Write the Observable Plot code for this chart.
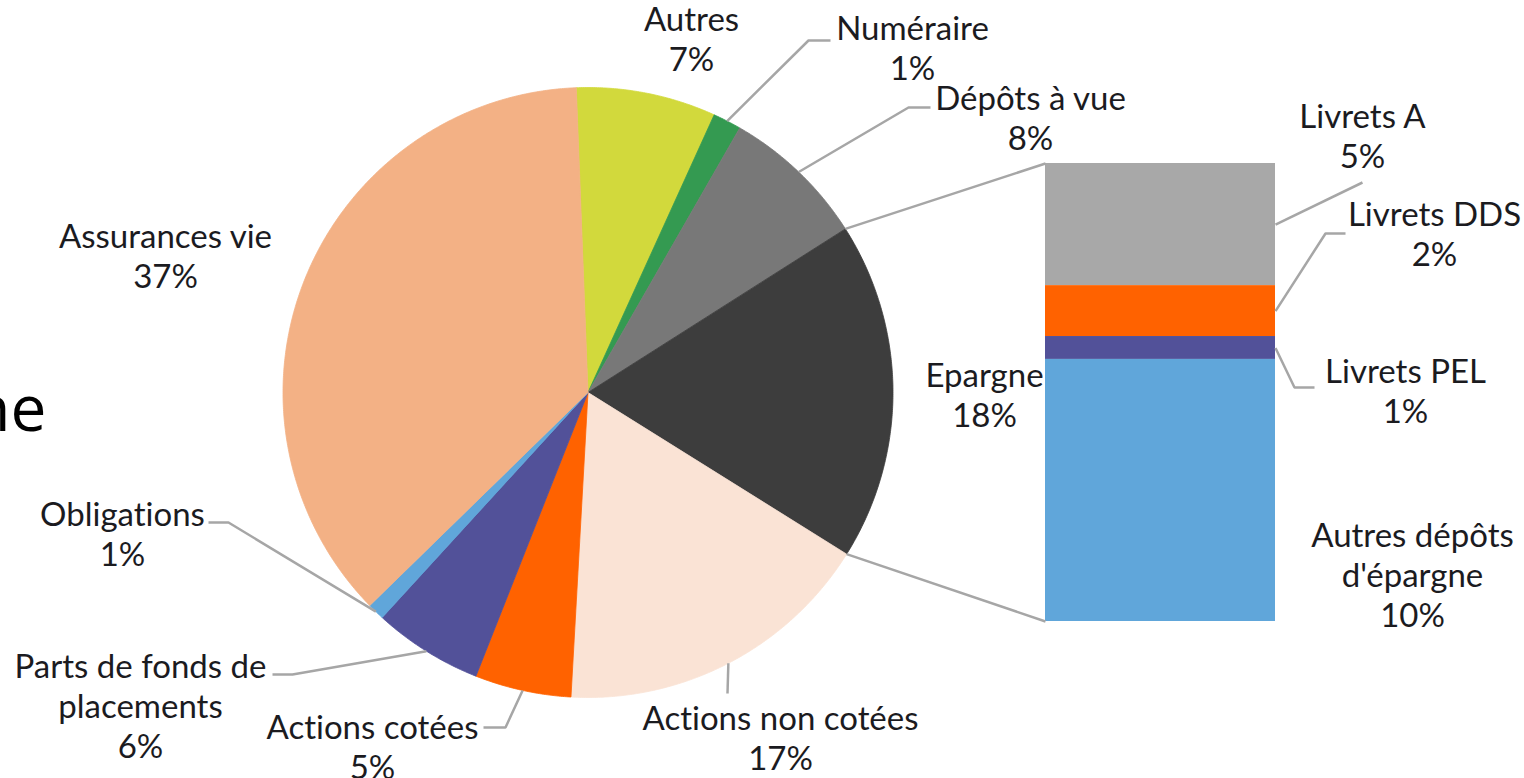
<!DOCTYPE html>
<html>
<head>
<meta charset="utf-8">
<script src="https://cdn.jsdelivr.net/npm/d3@7"></script>
<script src="https://cdn.jsdelivr.net/npm/@observablehq/plot@0.6"></script>
<style>
  html, body { margin: 0; padding: 0; background: #ffffff; overflow: hidden; }
  #chart { width: 1524px; height: 778px; }
  #chart svg text { font-variant-ligatures: none; font-feature-settings: "liga" 0, "clig" 0; }
</style>
</head>
<body>
<div id="chart"></div>
<script>
// ---------- DATA ----------
const pieCategories = ["Autres", "Numéraire", "Dépôts à vue", "Epargne", "Actions non cotées",
  "Actions cotées", "Parts de fonds de placements", "Obligations", "Assurances vie"];
const pieValues = [7.4, 1.5, 7.7, 17.9, 17.0, 5.1, 5.8, 0.9, 36.7];
const pieLabelText = ["Autres\n7%", "Numéraire\n1%", "Dépôts à vue\n8%", "Epargne\n18%",
  "Actions non cotées\n17%", "Actions cotées\n5%", "Parts de fonds de\nplacements\n6%",
  "Obligations\n1%", "Assurances vie\n37%"];
const pieColors = ["#d2d93c", "#349a51", "#787878", "#3d3d3d", "#fae3d5",
  "#ff6200", "#525199", "#60a6da", "#f3b185"];

const barCategories = ["Livrets A", "Livrets DDS", "Livrets PEL", "Autres dépôts d'épargne"];
const barValues = [4.8, 2.0, 0.9, 10.3];
const barLabelText = ["Livrets A\n5%", "Livrets DDS\n2%", "Livrets PEL\n1%", "Autres dépôts\nd'épargne\n10%"];
const barColors = ["#a8a8a8", "#ff6200", "#525199", "#60a6da"];

const sideText = "ne";

// ---------- LAYOUT ----------
const W = 1524, H = 778;
const cx = 587.5, cy = 392, R = 305, startDeg = -2.2;
const bar = {x0: 1045, x1: 1275, top: 163, bottom: 621};
const explodedIndex = 3; // Epargne
const fontFamily = "Lato, 'Open Sans', sans-serif";
const textColor = "#1b1b1f";
const leaderColor = "#a6a6a6";

// label block centres (pixel layout) per category
const pieLabelPos = {
  "Autres": [691, 38], "Numéraire": [912, 47], "Dépôts à vue": [1030, 117],
  "Epargne": [984, 394], "Actions non cotées": [780, 737], "Actions cotées": [372, 746],
  "Parts de fonds de placements": [140, 705], "Obligations": [122, 533], "Assurances vie": [165, 255]
};
const barLabelPos = {
  "Livrets A": [1362, 135], "Livrets DDS": [1434, 233], "Livrets PEL": [1405, 390],
  "Autres dépôts d'épargne": [1412, 574]
};
// leader line elbow/end points (pixel layout)
const pieLeaders = {
  "Numéraire": [[808, 40], [830, 40]],
  "Dépôts à vue": [[908, 107], [930, 107]],
  "Obligations": [[228, 522], [208, 522]],
  "Parts de fonds de placements": [[292, 674], [272, 674]],
  "Actions cotées": [[505, 727], [483, 727]],
  "Actions non cotées": [[727, 693]]
};
const barLeaders = {
  "Livrets A": [[1362, 182]],
  "Livrets DDS": [[1325, 233], [1345, 233]],
  "Livrets PEL": [[1294, 387], [1314, 387]]
};

// ---------- GEOMETRY FROM DATA ----------
const pt = (deg, r) => { const t = deg * Math.PI / 180; return [cx + r * Math.sin(t), cy - r * Math.cos(t)]; };
const pieTotal = d3.sum(pieValues);
let acc = startDeg;
const slices = pieCategories.map((key, i) => {
  const a0 = acc, a1 = acc + pieValues[i] / pieTotal * 360;
  acc = a1;
  return {key, a0, a1, mid: (a0 + a1) / 2, i};
});
const slicePoints = slices.flatMap(s => {
  const n = Math.max(2, Math.ceil((s.a1 - s.a0) / 0.4));
  const pts = [{key: s.key, x: cx, y: cy}];
  for (let j = 0; j <= n; j++) {
    const [x, y] = pt(s.a0 + (s.a1 - s.a0) * j / n, R);
    pts.push({key: s.key, x, y});
  }
  pts.push({key: s.key, x: cx, y: cy});
  return pts;
});

const barTotal = d3.sum(barValues);
const k = (bar.bottom - bar.top) / barTotal;
let yAcc = bar.top;
const barRows = barCategories.map((key, i) => {
  const y1 = yAcc, y2 = yAcc + barValues[i] * k;
  yAcc = y2;
  return {key, x1: bar.x0, x2: bar.x1, y1, y2, mid: (y1 + y2) / 2};
});

const ex = slices[explodedIndex];
const [ax, ay] = pt(ex.a0, R), [bx, by] = pt(ex.a1, R);
const connectors = [
  {x1: ax, y1: ay, x2: bar.x0, y2: bar.top},
  {x1: bx, y1: by, x2: bar.x0, y2: bar.bottom}
];

const leaderPoints = [];
slices.forEach(s => {
  const path = pieLeaders[s.key];
  if (!path) return;
  const [sx, sy] = pt(s.mid, R);
  leaderPoints.push({key: s.key, x: sx, y: sy});
  path.forEach(([x, y]) => leaderPoints.push({key: s.key, x, y}));
});
barRows.forEach(b => {
  const path = barLeaders[b.key];
  if (!path) return;
  leaderPoints.push({key: b.key, x: bar.x1, y: b.mid});
  path.forEach(([x, y]) => leaderPoints.push({key: b.key, x, y}));
});

const labels = [
  ...pieCategories.map((c, i) => ({x: pieLabelPos[c][0], y: pieLabelPos[c][1], text: pieLabelText[i]})),
  ...barCategories.map((c, i) => ({x: barLabelPos[c][0], y: barLabelPos[c][1], text: barLabelText[i]}))
];

const chart = Plot.plot({
  width: W, height: H, margin: 0,
  x: {domain: [0, W], range: [0, W], axis: null},
  y: {domain: [0, H], range: [0, H], axis: null},
  color: {type: "ordinal", domain: [...pieCategories, ...barCategories.map(d => "bar:" + d)], range: [...pieColors, ...barColors]},
  style: {background: "#ffffff", overflow: "visible"},
  marks: [
    Plot.line(slicePoints, {x: "x", y: "y", z: "key", fill: "key", stroke: "key", strokeWidth: 0.8, curve: "linear"}),
    Plot.rect(barRows, {x1: "x1", x2: "x2", y1: "y1", y2: "y2", fill: d => "bar:" + d.key}),
    Plot.link(connectors, {x1: "x1", y1: "y1", x2: "x2", y2: "y2", stroke: leaderColor, strokeWidth: 2.5}),
    Plot.line(leaderPoints, {x: "x", y: "y", z: "key", stroke: leaderColor, strokeWidth: 2.5, strokeLinejoin: "miter", strokeLinecap: "butt"}),
    Plot.text(labels, {x: "x", y: "y", text: "text", fontSize: 33, lineHeight: 1.21, fill: textColor, fontFamily, textAnchor: "middle"}),
    Plot.text([sideText], {x: () => 46, y: () => 430, text: d => d, fontSize: 64, textAnchor: "end", lineAnchor: "bottom", fill: "#000000", fontFamily: "'Open Sans', sans-serif"})
  ]
});
document.getElementById("chart").appendChild(chart);
</script>
</body>
</html>
